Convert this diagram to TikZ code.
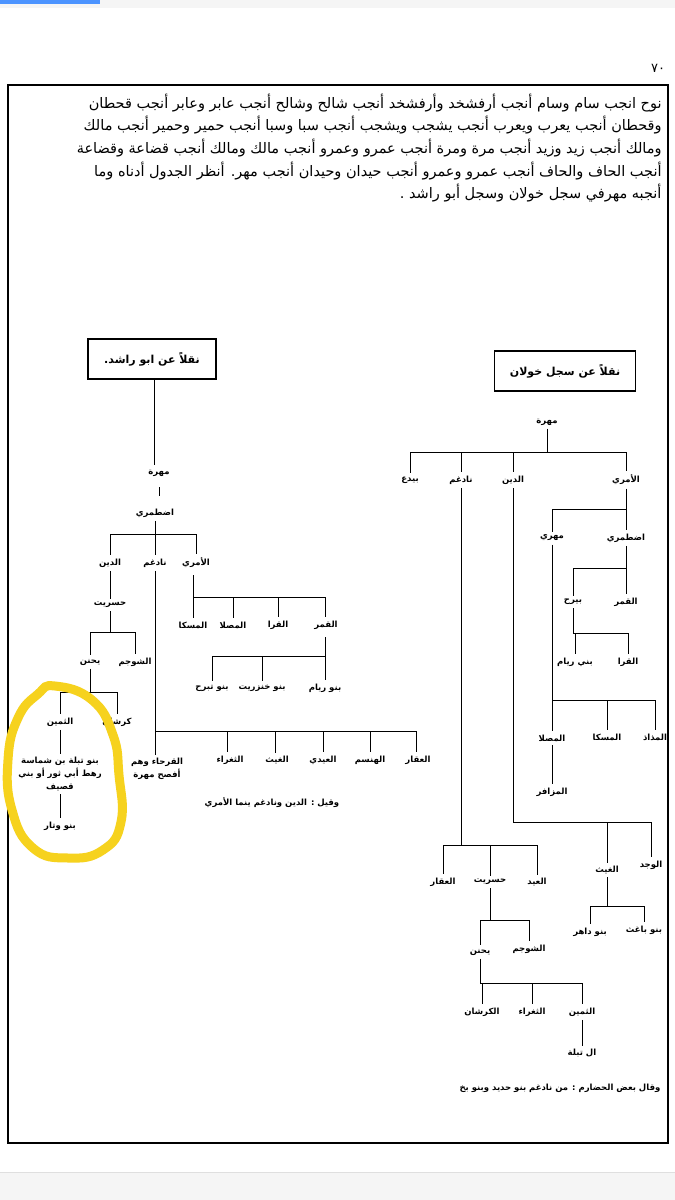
\documentclass[tikz,border=0pt]{standalone}
\usepackage{fontspec}
\TeXXeTstate=1
\newfontfamily\arabicfont[Script=Arabic]{DejaVu Sans}
\newcommand\AR[1]{\beginR#1\endR}
\newcommand\famtree[3]{\draw (#1.south) -- (#1.south |- 0,#2);
  \foreach \c in {#3}{\draw (#1.south |- 0,#2) -| (\c.north);}}
\newcommand\vlink[2]{\draw (#1.south) -- (#1.south |- #2.north);}
\begin{document}
\begin{tikzpicture}[x=1pt,y=-1pt,line width=1pt,
  lbl/.style={font=\arabicfont\bfseries\fontsize{8.5}{10}\selectfont,inner sep=3pt,align=center},
  para/.style={font=\arabicfont\fontsize{14.5}{16}\selectfont,anchor=east,inner sep=0pt},
  titlebox/.style={draw,line width=1.2pt,font=\arabicfont\bfseries\fontsize{11}{13}\selectfont,minimum height=40pt,inner xsep=10pt}]
\useasboundingbox (0,0) rectangle (675,1200);
\fill[white] (0,0) rectangle (675,1200);
\fill[gray!8] (0,0) rectangle (675,8);
\fill[blue!60!cyan!70] (0,0) rectangle (100,4);
\fill[gray!8] (0,1172) rectangle (675,1200);
\draw[gray!25] (0,1172) -- (675,1172);
% page frame
\node[font=\arabicfont\fontsize{13}{14}\selectfont] (pg) at (658,68) {٧٠};
\draw[line width=1.3pt] (8,85) rectangle (668,1143);
% paragraph
\node[para] (p1) at (662,103) {\AR{نوح انجب سام وسام أنجب  أرفشخد وأرفشخد أنجب شالح وشالح أنجب عابر وعابر أنجب قحطان}};
\node[para] (p2) at (662,125) {\AR{وقحطان أنجب يعرب ويعرب أنجب يشجب ويشجب أنجب سبا  وسبا  أنجب حمير وحمير أنجب مالك}};
\node[para] (p3) at (662,148) {\AR{ومالك أنجب  زيد وزيد أنجب مرة ومرة أنجب عمرو وعمرو أنجب  مالك ومالك أنجب قضاعة وقضاعة}};
\node[para] (p4) at (662,171) {\AR{أنجب الحاف  والحاف أنجب عمرو وعمرو أنجب  حيدان وحيدان أنجب مهر. أنظر الجدول أدناه وما}};
\node[para] (p5) at (662,193) {\AR{أنجبه مهرفي سجل خولان وسجل أبو راشد .}};
% ===== left tree =====
\node[titlebox,minimum width=128pt] (Lt) at (152,359) {\AR{نقلاً عن ابو راشد.}};
\node[lbl] (Lmahra) at (159,473) {\AR{مهرة}};
\draw (154,380) -- (154,465);
\node[lbl] (Ldt) at (155,513) {\AR{اضطمري}};
\draw (159,487) -- (159,496);
\node[lbl] (Ldin) at (110,563) {\AR{الدين}};
\node[lbl] (Lnad) at (155,563) {\AR{نادغم}};
\node[lbl] (Lamri) at (196,563) {\AR{الأمري}};
\famtree{Ldt}{534}{Ldin,Lnad,Lamri}
\node[lbl] (Lhas) at (110,605) {\AR{حسريت}};
\vlink{Ldin}{Lhas}
\node[lbl] (Lyah) at (90,662) {\AR{يحنن}};
\node[lbl] (Lshu) at (135,662) {\AR{الشوجم}};
\famtree{Lhas}{632}{Lyah,Lshu}
\node[lbl] (Lthm) at (60,722) {\AR{الثمين}};
\node[lbl] (Lkar) at (117,722) {\AR{كرشان}};
\famtree{Lyah}{692}{Lthm,Lkar}
\node[lbl,font=\arabicfont\bfseries\fontsize{8.5}{13}\selectfont] (Ltab) at (60,774) {\AR{بنو تبلة بن شماسة}\\\AR{رهط أبي ثور أو بني}\\\AR{قصيف}};
\vlink{Lthm}{Ltab}
\node[lbl] (Lwat) at (60,826) {\AR{بنو وتار}};
\draw (Ltab.south) -- (Lwat.north);
\node[lbl] (Lmsk) at (193,625) {\AR{المسكا}};
\node[lbl] (Lmsl) at (233,625) {\AR{المصلا}};
\node[lbl] (Lqra) at (278,625) {\AR{القرا}};
\node[lbl] (Lqmr) at (326,625) {\AR{القمر}};
\draw (193,575) -- (193,597) -- (325,597);
\foreach \c/\x in {Lmsk/193,Lmsl/233,Lqra/278,Lqmr/325}{\draw (\x,597) -- (\x,0 |- \c.north);}
\node[lbl] (Lbr) at (325,688) {\AR{بنو ريام}};
\node[lbl] (Lbk) at (262,688) {\AR{بنو خنزريت}};
\node[lbl] (Lbt) at (212,688) {\AR{بنو تبرح}};
\draw (325,637) -- (325,656) -- (212,656);
\foreach \c/\x in {Lbr/325,Lbk/262,Lbt/212}{\draw (\x,656) -- (\x,0 |- \c.north);}
\node[lbl,font=\arabicfont\bfseries\fontsize{8.5}{13}\selectfont] (Lqar) at (157,769) {\AR{القرحاء وهم}\\\AR{أفصح مهرة}};
\node[lbl] (Lthg) at (230,760) {\AR{الثغراء}};
\node[lbl] (Lgay) at (277,760) {\AR{الغيث}};
\node[lbl] (Laid) at (323,760) {\AR{العيدي}};
\node[lbl] (Lhan) at (370,760) {\AR{الهنسم}};
\node[lbl] (Laqq) at (418,760) {\AR{العقار}};
\draw (Lnad.south) -- (155,731) -- (416,731);
\foreach \c/\x in {Lqar/155,Lthg/227,Lgay/275,Laid/323,Lhan/370,Laqq/416}{\draw (\x,731) -- (\x,0 |- \c.north);}
\node[lbl] (Lnote) at (272,803) {\AR{وقيل : الدين ونادغم ينما الأمري}};
% yellow mark
\draw[line width=9pt,color={rgb,255:red,246;green,210;blue,30},line cap=round]
 plot[smooth cycle,tension=0.8] coordinates {(55,686) (92,700) (113,735) (119,775) (121,822) (103,850) (68,858) (33,848) (12,810) (8,760) (18,718) (38,694)};
% ===== right tree =====
\node[titlebox,minimum width=141pt] (Rt) at (565,371) {\AR{نقلاً عن سجل خولان}};
\node[lbl] (Rmahra) at (547,422) {\AR{مهرة}};
\node[lbl] (Rbyd) at (410,480) {\AR{بيدع}};
\node[lbl] (Rnad) at (461,480) {\AR{نادغم}};
\node[lbl] (Rdin) at (513,480) {\AR{الدين}};
\node[lbl] (Ramri) at (626,480) {\AR{الأمري}};
\famtree{Rmahra}{452}{Rbyd,Rnad,Rdin,Ramri}
\node[lbl] (Rdt) at (626,538) {\AR{اضطمري}};
\node[lbl] (Rmhr) at (552,538) {\AR{مهري}};
\famtree{Ramri}{509}{Rdt,Rmhr}
\node[lbl] (Rbyr) at (573,602) {\AR{بيرح}};
\node[lbl] (Rqmr) at (626,602) {\AR{القمر}};
\famtree{Rdt}{568}{Rbyr,Rqmr}
\node[lbl] (Rbr) at (575,662) {\AR{بني ريام}};
\node[lbl] (Rqra) at (628,662) {\AR{القرا}};
\draw (Rbyr.south) -- (Rbyr.south |- 0,633) -| (Rbr.north); \draw (Rbyr.south |- 0,633) -| (Rqra.north);
\node[lbl] (Rmsl) at (552,738) {\AR{المصلا}};
\node[lbl] (Rmsk) at (607,737) {\AR{المسكا}};
\node[lbl] (Rmdh) at (655,737) {\AR{المذاذ}};
\draw (Rmhr.south) -- (Rmhr.south |- 0,700) -- (655,700);
\draw (Rmhr.south |- 0,700) -- (Rmsl.north); \draw (607,700) -- (Rmsk.north); \draw (655,700) -- (Rmdh.north);
\node[lbl] (Rmzf) at (552,792) {\AR{المزافر}};
\draw (Rmsl.south) -- (Rmzf.north);
\node[lbl] (Rwjd) at (651,865) {\AR{الوجد}};
\node[lbl] (Rgay) at (607,870) {\AR{الغيث}};
\famtree{Rdin}{822}{Rwjd,Rgay}
\node[lbl] (Rdah) at (590,932) {\AR{بنو داهر}};
\node[lbl] (Rbag) at (644,930) {\AR{بنو باغث}};
\famtree{Rgay}{906}{Rdah,Rbag}
\node[lbl] (Raqq) at (443,882) {\AR{العقار}};
\node[lbl] (Rhas) at (490,882) {\AR{حسريت}};
\node[lbl] (Raid) at (537,882) {\AR{العيد}};
\famtree{Rnad}{845}{Raqq,Rhas,Raid}
\node[lbl] (Ryah) at (480,952) {\AR{يحنن}};
\node[lbl] (Rshu) at (529,949) {\AR{الشوجم}};
\famtree{Rhas}{920}{Ryah,Rshu}
\node[lbl] (Rkar) at (482,1012) {\AR{الكرشان}};
\node[lbl] (Rthg) at (532,1012) {\AR{الثغراء}};
\node[lbl] (Rthm) at (582,1012) {\AR{الثمين}};
\famtree{Ryah}{983}{Rkar,Rthg,Rthm}
\node[lbl] (Rtab) at (582,1053) {\AR{ال تبلة}};
\vlink{Rthm}{Rtab}
\node[lbl] (Rnote) at (560,1088) {\AR{وقال بعض الحضارم : من نادغم  بنو حديد وبنو بخ}};
\end{tikzpicture}
\end{document}
